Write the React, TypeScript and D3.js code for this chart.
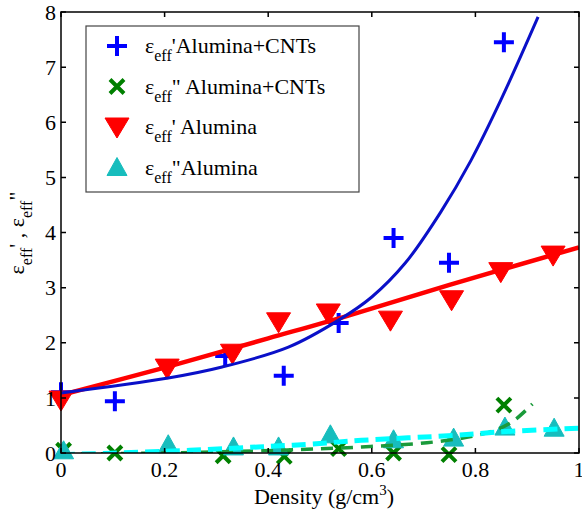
import React, { useEffect, useRef } from "react"
import * as d3 from "d3"

const cntReal = [[0, 1.1], [0.104, 0.94], [0.317, 1.76], [0.43, 1.4], [0.536, 2.36], [0.642, 3.9], [0.749, 3.45], [0.855, 7.45]]
const cntImag = [[0.005, 0.05], [0.104, 0.0], [0.313, -0.05], [0.431, -0.06], [0.536, 0.08], [0.642, 0.0], [0.749, -0.03], [0.855, 0.87]]
const aluReal = [[0, 0.96], [0.205, 1.54], [0.331, 1.81], [0.42, 2.38], [0.516, 2.54], [0.636, 2.41], [0.754, 2.78], [0.849, 3.29], [0.95, 3.59]]
const aluImag = [[0.005, 0.04], [0.207, 0.15], [0.333, 0.11], [0.42, 0.11], [0.52, 0.33], [0.642, 0.24], [0.758, 0.27], [0.857, 0.47], [0.952, 0.45]]

// fitted curves
const cntRealFit = [[0, 1.09], [0.207, 1.36], [0.311, 1.56], [0.439, 1.92], [0.536, 2.41], [0.6, 2.83], [0.665, 3.45], [0.733, 4.37], [0.791, 5.3], [0.849, 6.4], [0.921, 7.91]]
const cntImagFit = [[0, -0.02], [0.2, 0.0], [0.42, 0.05], [0.58, 0.11], [0.72, 0.2], [0.82, 0.36], [0.87, 0.56], [0.91, 0.89]]
const aluRealFit = [[0, 1.05], [0.2, 1.55], [0.4, 2.08], [0.55, 2.48], [0.75, 3.05], [1, 3.73]]
const aluImagFit = [[0, -0.03], [0.2, 0.03], [0.38, 0.11], [0.48, 0.16], [0.58, 0.23], [0.76, 0.32], [0.86, 0.39], [1, 0.45]]

const xTicks = [0, 0.2, 0.4, 0.6, 0.8, 1]
const yTicks = [0, 1, 2, 3, 4, 5, 6, 7, 8]
const legendItems = [
  { kind: "plus", rest: "'Alumina+CNTs" },
  { kind: "cross", rest: "\" Alumina+CNTs" },
  { kind: "down", rest: "' Alumina" },
  { kind: "up", rest: "\"Alumina" },
]

const W = 582
const H = 516
const FONT = "Liberation Serif, Times New Roman, Times, DejaVu Serif, serif"

const App = () => {
  const ref = useRef<SVGSVGElement>(null)

  useEffect(() => {
    const svg = d3.select(ref.current)
    svg.selectAll("*").remove()

    const x = d3.scaleLinear([0, 1], [61, 579])
    const y = d3.scaleLinear([0, 8], [453, 12])

    svg.append("rect").attr("width", W).attr("height", H).attr("fill", "white")

    svg.append("defs").append("clipPath").attr("id", "plotclip")
      .append("rect")
      .attr("x", x(0)).attr("y", y(8))
      .attr("width", x(1) - x(0)).attr("height", y(0) - y(8))

    // marker shapes
    const drawMarker = (g, kind, px, py) => {
      if (kind === "plus") {
        g.append("path").attr("d", `M${px - 10},${py}H${px + 10}M${px},${py - 10}V${py + 10}`)
          .attr("stroke", "#0000ff").attr("stroke-width", 4).attr("fill", "none")
      } else if (kind === "cross") {
        g.append("path").attr("d", `M${px - 7},${py - 7}L${px + 7},${py + 7}M${px - 7},${py + 7}L${px + 7},${py - 7}`)
          .attr("stroke", "#008000").attr("stroke-width", 4).attr("fill", "none")
      } else if (kind === "down") {
        g.append("path").attr("d", `M${px - 12},${py - 9}L${px + 12},${py - 9}L${px},${py + 11}Z`)
          .attr("fill", "#ff0000").attr("stroke", "#ff0000").attr("stroke-width", 1)
      } else {
        g.append("path").attr("d", `M${px - 10},${py + 8}L${px + 10},${py + 8}L${px},${py - 10}Z`)
          .attr("fill", "#17bdbd").attr("stroke", "#17bdbd").attr("stroke-width", 1)
      }
    }

    const marks = svg.append("g")
    cntReal.forEach(d => drawMarker(marks, "plus", x(d[0]), y(d[1])))
    cntImag.forEach(d => drawMarker(marks, "cross", x(d[0]), y(d[1])))
    aluReal.forEach(d => drawMarker(marks, "down", x(d[0]), y(d[1])))
    aluImag.forEach(d => drawMarker(marks, "up", x(d[0]), y(d[1])))

    const line = d3.line().curve(d3.curveCatmullRom).x(d => x(d[0])).y(d => y(d[1]))
    const lines = svg.append("g").attr("clip-path", "url(#plotclip)").attr("fill", "none")
    lines.append("path").attr("d", line(aluRealFit)).attr("stroke", "#ff0000").attr("stroke-width", 4.5)
    lines.append("path").attr("d", line(cntRealFit)).attr("stroke", "#0a10c8").attr("stroke-width", 3)
    lines.append("path").attr("d", line(cntImagFit)).attr("stroke", "#1a9a3a").attr("stroke-width", 3.5)
      .attr("stroke-dasharray", "12,8")
    lines.append("path").attr("d", line(aluImagFit)).attr("stroke", "#00ffff").attr("stroke-width", 5)
      .attr("stroke-dasharray", "14,7")

    // axes box + inward ticks on all sides
    const ax = svg.append("g").attr("stroke", "black").attr("stroke-width", 1.5).attr("fill", "none")
    ax.append("rect").attr("x", x(0)).attr("y", y(8)).attr("width", x(1) - x(0)).attr("height", y(0) - y(8))
    xTicks.forEach(t => {
      ax.append("path").attr("d", `M${x(t)},${y(0)}v-5M${x(t)},${y(8)}v5`)
    })
    yTicks.forEach(t => {
      ax.append("path").attr("d", `M${x(0)},${y(t)}h5M${x(1)},${y(t)}h-5`)
    })

    const txt = svg.append("g").style("font-family", FONT).attr("font-size", 22).attr("fill", "black")
    xTicks.forEach(t => {
      txt.append("text").attr("x", x(t)).attr("y", 477).attr("text-anchor", "middle").text(String(t))
    })
    yTicks.forEach(t => {
      txt.append("text").attr("x", 56).attr("y", y(t)).attr("dy", "0.35em").attr("text-anchor", "end").text(String(t))
    })

    // x label
    const xl = txt.append("text").attr("x", 324).attr("y", 504).attr("text-anchor", "middle")
    xl.append("tspan").text("Density (g/cm")
    xl.append("tspan").attr("font-size", 15).attr("dy", -9).text("3")
    xl.append("tspan").attr("dy", 9).text(")")

    // y label
    const yl = txt.append("text").attr("transform", "translate(24,233) rotate(-90)").attr("text-anchor", "middle")
    yl.append("tspan").text("ε")
    yl.append("tspan").attr("font-size", 16).attr("dy", 8).text("eff")
    yl.append("tspan").attr("dy", -8).text("' , ε")
    yl.append("tspan").attr("font-size", 16).attr("dy", 8).text("eff")
    yl.append("tspan").attr("dy", -8).text("\"")

    // legend
    const lg = svg.append("g").style("font-family", FONT)
    lg.append("rect").attr("x", 86).attr("y", 26).attr("width", 273).attr("height", 166)
      .attr("fill", "white").attr("stroke", "#444").attr("stroke-width", 1.2)
    legendItems.forEach((item, i) => {
      const base = 53 + i * 40.5
      drawMarker(lg, item.kind, 117, base - 7)
      const t = lg.append("text").attr("x", 145).attr("y", base).attr("font-size", 22)
      t.append("tspan").text("ε")
      t.append("tspan").attr("font-size", 16).attr("dy", 8).text("eff")
      t.append("tspan").attr("dy", -8).text(item.rest)
    })
  }, [])

  return (
    <svg ref={ref} width={W} height={H}
      style={{ position: "absolute", left: 0, top: 0, display: "block", fontFamily: FONT }} />
  )
}

export default App
